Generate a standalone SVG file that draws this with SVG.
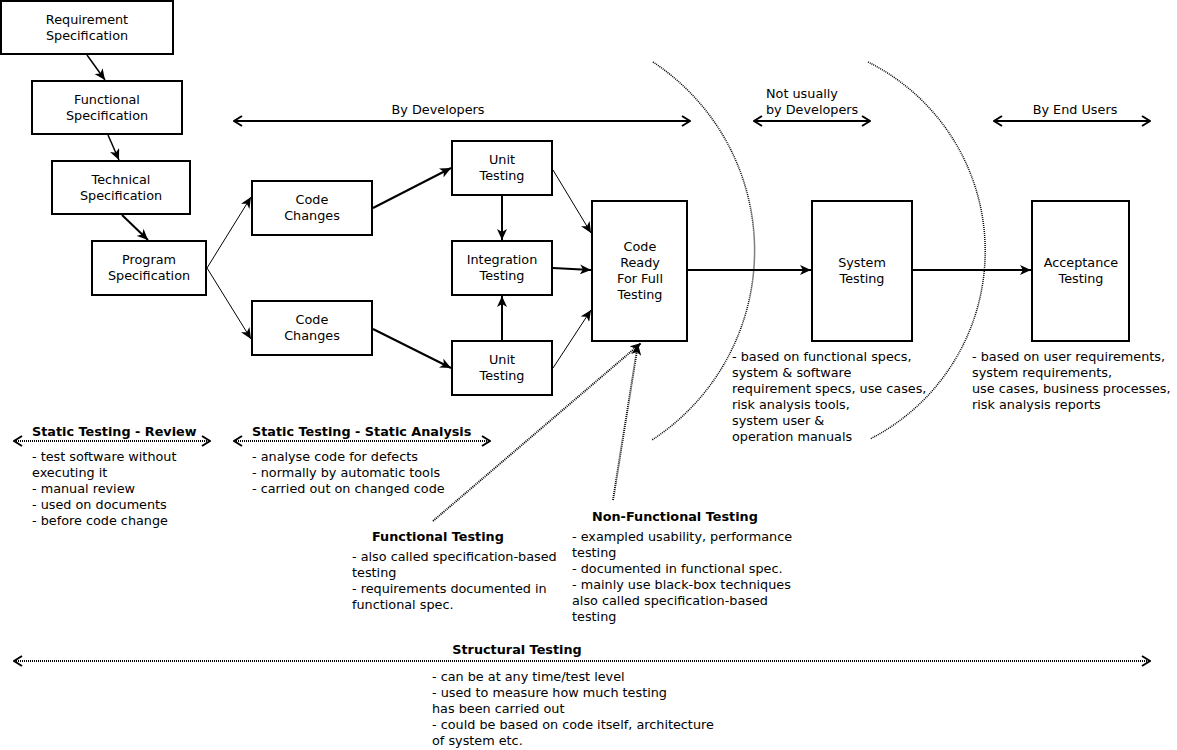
<svg xmlns="http://www.w3.org/2000/svg" width="1177" height="750" viewBox="0 0 1177 750">
<style>
text{font-family:"DejaVu Sans","Liberation Sans",sans-serif;font-size:12.8px;fill:#000}
.c{text-anchor:middle}
.b{font-weight:bold}
.box{fill:#fff;stroke:#000;stroke-width:2}
.ln{fill:none;stroke:#000}
.dot{fill:none;stroke:#000;stroke-dasharray:1 1}
</style>
<defs>
<marker id="fa" markerUnits="userSpaceOnUse" markerWidth="12" markerHeight="10" refX="11" refY="5" orient="auto" viewBox="0 0 12 10">
<path d="M0,0 L11,5 L0,10 L3,5 z" fill="#000"/>
</marker>
<marker id="oe" markerUnits="userSpaceOnUse" markerWidth="10" markerHeight="12" refX="9" refY="6" orient="auto" viewBox="0 0 10 12">
<path d="M1,1 L9,6 L1,11" fill="none" stroke="#000" stroke-width="2"/>
</marker>
<marker id="os" markerUnits="userSpaceOnUse" markerWidth="10" markerHeight="12" refX="9" refY="6" orient="auto-start-reverse" viewBox="0 0 10 12">
<path d="M1,1 L9,6 L1,11" fill="none" stroke="#000" stroke-width="2"/>
</marker>
</defs>

<g id="connectors">
<line class="ln" stroke-width="1.5" x1="87" y1="55" x2="105" y2="80" marker-end="url(#fa)"/>
<line class="ln" stroke-width="1.5" x1="108" y1="135" x2="119" y2="160" marker-end="url(#fa)"/>
<line class="ln" stroke-width="2" x1="122" y1="215" x2="148" y2="240" marker-end="url(#fa)"/>
<line class="ln" stroke-width="1" x1="207" y1="268" x2="251" y2="197" marker-end="url(#fa)"/>
<line class="ln" stroke-width="1" x1="207" y1="268" x2="251" y2="339" marker-end="url(#fa)"/>
<line class="ln" stroke-width="2" x1="373" y1="208" x2="451" y2="168" marker-end="url(#fa)"/>
<line class="ln" stroke-width="2" x1="373" y1="329" x2="451" y2="368" marker-end="url(#fa)"/>
<line class="ln" stroke-width="2" x1="502" y1="196" x2="502" y2="240" marker-end="url(#fa)"/>
<line class="ln" stroke-width="2" x1="502" y1="340" x2="502" y2="296" marker-end="url(#fa)"/>
<line class="ln" stroke-width="1" x1="553" y1="170" x2="591" y2="233" marker-end="url(#fa)"/>
<line class="ln" stroke-width="2" x1="553" y1="268" x2="591" y2="270" marker-end="url(#fa)"/>
<line class="ln" stroke-width="1" x1="553" y1="368" x2="591" y2="310" marker-end="url(#fa)"/>
<line class="ln" stroke-width="2" x1="688" y1="270" x2="811" y2="270" marker-end="url(#fa)"/>
<line class="ln" stroke-width="2" x1="913" y1="270" x2="1031" y2="270" marker-end="url(#fa)"/>
<line class="dot" stroke-width="2" x1="433" y1="521" x2="641" y2="343" marker-end="url(#fa)"/>
<line class="dot" stroke-width="2" x1="613" y1="500" x2="638" y2="344" marker-end="url(#fa)"/>
<line class="ln" stroke-width="2" x1="234" y1="121" x2="690" y2="121" marker-start="url(#os)" marker-end="url(#oe)"/>
<line class="ln" stroke-width="2" x1="754" y1="121" x2="870" y2="121" marker-start="url(#os)" marker-end="url(#oe)"/>
<line class="ln" stroke-width="2" x1="994" y1="121" x2="1150" y2="121" marker-start="url(#os)" marker-end="url(#oe)"/>
<line class="dot" stroke-width="2" x1="14" y1="441" x2="210" y2="441" marker-start="url(#os)" marker-end="url(#oe)"/>
<line class="dot" stroke-width="2" x1="234" y1="441" x2="490" y2="441" marker-start="url(#os)" marker-end="url(#oe)"/>
<line class="dot" stroke-width="2" x1="14" y1="661" x2="1150" y2="661" marker-start="url(#os)" marker-end="url(#oe)"/>
<path class="dot" stroke-width="1.5" stroke-dasharray="1.5 2" d="M653,62 A226,226 0 0,1 652,440"/>
<path class="dot" stroke-width="1.5" stroke-dasharray="1.5 2" d="M868,62 A211,211 0 0,1 870,439"/>
</g>

<g id="n-req"><rect class="box" x="1" y="1" width="172" height="53"/><text class="c" x="87" y="24">Requirement</text><text class="c" x="87" y="40">Specification</text></g>
<g id="n-func"><rect class="box" x="32" y="81" width="150" height="53"/><text class="c" x="107" y="104">Functional</text><text class="c" x="107" y="120">Specification</text></g>
<g id="n-tech"><rect class="box" x="52" y="161" width="138" height="53"/><text class="c" x="121" y="184">Technical</text><text class="c" x="121" y="200">Specification</text></g>
<g id="n-prog"><rect class="box" x="92" y="241" width="114" height="54"/><text class="c" x="149" y="264">Program</text><text class="c" x="149" y="280">Specification</text></g>
<g id="n-code1"><rect class="box" x="252" y="181" width="120" height="54"/><text class="c" x="312" y="204">Code</text><text class="c" x="312" y="220">Changes</text></g>
<g id="n-code2"><rect class="box" x="252" y="301" width="120" height="54"/><text class="c" x="312" y="324">Code</text><text class="c" x="312" y="340">Changes</text></g>
<g id="n-unit1"><rect class="box" x="452" y="141" width="100" height="54"/><text class="c" x="502" y="164">Unit</text><text class="c" x="502" y="180">Testing</text></g>
<g id="n-integ"><rect class="box" x="452" y="241" width="100" height="54"/><text class="c" x="502" y="264">Integration</text><text class="c" x="502" y="280">Testing</text></g>
<g id="n-unit2"><rect class="box" x="452" y="341" width="100" height="54"/><text class="c" x="502" y="364">Unit</text><text class="c" x="502" y="380">Testing</text></g>
<g id="n-ready"><rect class="box" x="592" y="201" width="95" height="140"/><text class="c" x="640" y="251">Code</text><text class="c" x="640" y="267">Ready</text><text class="c" x="640" y="283">For Full</text><text class="c" x="640" y="299">Testing</text></g>
<g id="n-system"><rect class="box" x="812" y="201" width="100" height="140"/><text class="c" x="862" y="267">System</text><text class="c" x="862" y="283">Testing</text></g>
<g id="n-accept"><rect class="box" x="1032" y="201" width="97" height="140"/><text class="c" x="1081" y="267">Acceptance</text><text class="c" x="1081" y="283">Testing</text></g>

<g id="labels">
<text class="c" x="438" y="114">By Developers</text>
<text x="766" y="98">Not usually</text>
<text x="766" y="114">by Developers</text>
<text class="c" x="1075" y="114">By End Users</text>

<text class="b" x="32" y="436">Static Testing - Review</text>
<text x="32" y="461">- test software without</text>
<text x="32" y="477">executing it</text>
<text x="32" y="493">- manual review</text>
<text x="32" y="509">- used on documents</text>
<text x="32" y="525">- before code change</text>

<text class="b" x="252" y="436">Static Testing - Static Analysis</text>
<text x="252" y="461">- analyse code for defects</text>
<text x="252" y="477">- normally by automatic tools</text>
<text x="252" y="493">- carried out on changed code</text>

<text class="b" x="372" y="541">Functional Testing</text>
<text x="352" y="561">- also called specification-based</text>
<text x="352" y="577">testing</text>
<text x="352" y="593">- requirements documented in</text>
<text x="352" y="609">functional spec.</text>

<text class="b" x="592" y="521">Non-Functional Testing</text>
<text x="572" y="541">- exampled usability, performance</text>
<text x="572" y="557">testing</text>
<text x="572" y="573">- documented in functional spec.</text>
<text x="572" y="589">- mainly use black-box techniques</text>
<text x="572" y="605">also called specification-based</text>
<text x="572" y="621">testing</text>

<text x="732" y="361">- based on functional specs,</text>
<text x="732" y="377">system &amp; software</text>
<text x="732" y="393">requirement specs, use cases,</text>
<text x="732" y="409">risk analysis tools,</text>
<text x="732" y="425">system user &amp;</text>
<text x="732" y="441">operation manuals</text>

<text x="972" y="361">- based on user requirements,</text>
<text x="972" y="377">system requirements,</text>
<text x="972" y="393">use cases, business processes,</text>
<text x="972" y="409">risk analysis reports</text>

<text class="b c" x="517" y="654">Structural Testing</text>
<text x="432" y="681">- can be at any time/test level</text>
<text x="432" y="697">- used to measure how much testing</text>
<text x="432" y="713">has been carried out</text>
<text x="432" y="729">- could be based on code itself, architecture</text>
<text x="432" y="745">of system etc.</text>
</g>
</svg>
